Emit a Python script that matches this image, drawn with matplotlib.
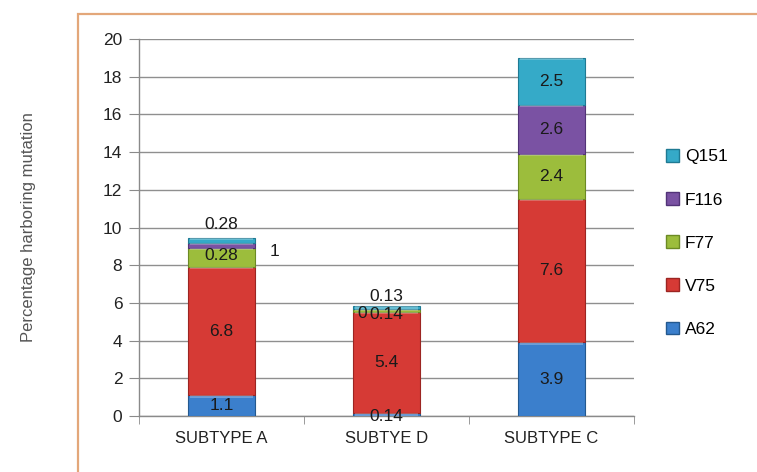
import matplotlib
matplotlib.use("Agg")
import matplotlib.pyplot as plt
from matplotlib.patches import Rectangle, Patch
import numpy as np

plt.rcParams['font.family'] = ['Liberation Sans', 'DejaVu Sans']

# Data
categories = ["SUBTYPE A", "SUBTYE D", "SUBTYPE C"]
mutations = ["A62", "V75", "F77", "F116", "Q151"]
A62 = [1.1, 0.14, 3.9]
V75 = [6.8, 5.4, 7.6]
F77 = [1.0, 0.14, 2.4]
F116 = [0.28, 0.0, 2.6]
Q151 = [0.28, 0.13, 2.5]
series = [A62, V75, F77, F116, Q151]
colors = ["#3b7fcc", "#d63a35", "#9cbd3c", "#7a52a3", "#35aac8"]
edge_colors = ["#24598f", "#9c2522", "#6c8a24", "#523378", "#1f7a93"]

# Label placement tweaks (data-unit offsets) for crowded small segments
label_dx = {(0, 2): 0.32, (0, 3): 0.0, (0, 4): 0.0, (1, 3): -0.145}
label_dy = {(0, 2): 0.35, (0, 3): -0.55, (0, 4): 0.85, (1, 0): -0.1,
            (1, 2): -0.25, (1, 3): -0.25, (1, 4): 0.6}

fig = plt.figure(figsize=(7.57, 4.72), dpi=100)

# Outer frame of the chart area
fig.patches.append(Rectangle((78 / 757, -0.1), 1.0, (472 - 14) / 472 + 0.1,
                             transform=fig.transFigure, fill=False,
                             edgecolor="#e3a77a", linewidth=1.6, zorder=0))

ax = fig.add_axes([139 / 757, (472 - 416) / 472, 495 / 757, 377 / 472])
x = np.arange(len(categories))
width = 0.41
bottom = np.zeros(len(categories))
for i, (vals, name) in enumerate(zip(series, mutations)):
    vals = np.array(vals)
    ax.bar(x, vals, width, bottom=bottom, color=colors[i],
           edgecolor=edge_colors[i], linewidth=0.8, label=name, zorder=3)
    # soft highlight along the top of each segment
    hl = np.minimum(vals, 0.12)
    ax.bar(x, hl, width * 0.94, bottom=bottom + vals - hl,
           color="white", alpha=0.25, linewidth=0, zorder=4)
    for j, v in enumerate(vals):
        if v == 0 and (j, i) not in label_dy:
            continue
        cx = x[j] + label_dx.get((j, i), 0.0)
        cy = bottom[j] + v / 2 + label_dy.get((j, i), 0.0)
        ax.text(cx, cy, f"{v:g}", ha="center", va="center", fontsize=12.5,
                color="#1a1a1a", zorder=6)
    bottom += vals

ax.set_xlim(-0.5, 2.5)
ax.set_ylim(0, 20)
ax.set_yticks(np.arange(0, 21, 2))
ax.set_xticks(x)
ax.set_xticklabels(categories)
ax.set_xticks([-0.5, 0.5, 1.5, 2.5], minor=True)
ax.tick_params(axis="x", which="major", length=0, pad=11, labelsize=12,
               colors="#222222")
ax.tick_params(axis="x", which="minor", length=6, color="#8a8a8a")
ax.tick_params(axis="y", length=7, color="#8a8a8a", labelsize=12.5,
               labelcolor="#222222", pad=5)
ax.yaxis.grid(True, color="#8f8f8f", linewidth=1.0, zorder=0)
ax.set_axisbelow(True)
for side in ["top", "right"]:
    ax.spines[side].set_visible(False)
for side in ["left", "bottom"]:
    ax.spines[side].set_color("#8a8a8a")
    ax.spines[side].set_linewidth(1.0)

ax.set_ylabel("Percentage harboring mutation", fontsize=12, color="#555555",
              labelpad=48)

handles = [Patch(facecolor=colors[i], edgecolor=edge_colors[i], label=mutations[i])
           for i in range(len(mutations))][::-1]
fig.legend(handles=handles, loc="center left",
           bbox_to_anchor=(666 / 757, (472 - 243) / 472), frameon=False,
           fontsize=12.5, handlelength=0.75, handleheight=0.75, handletextpad=0.35,
           labelspacing=1.6, borderpad=0, borderaxespad=0)

fig.savefig("out.png", dpi=100)
